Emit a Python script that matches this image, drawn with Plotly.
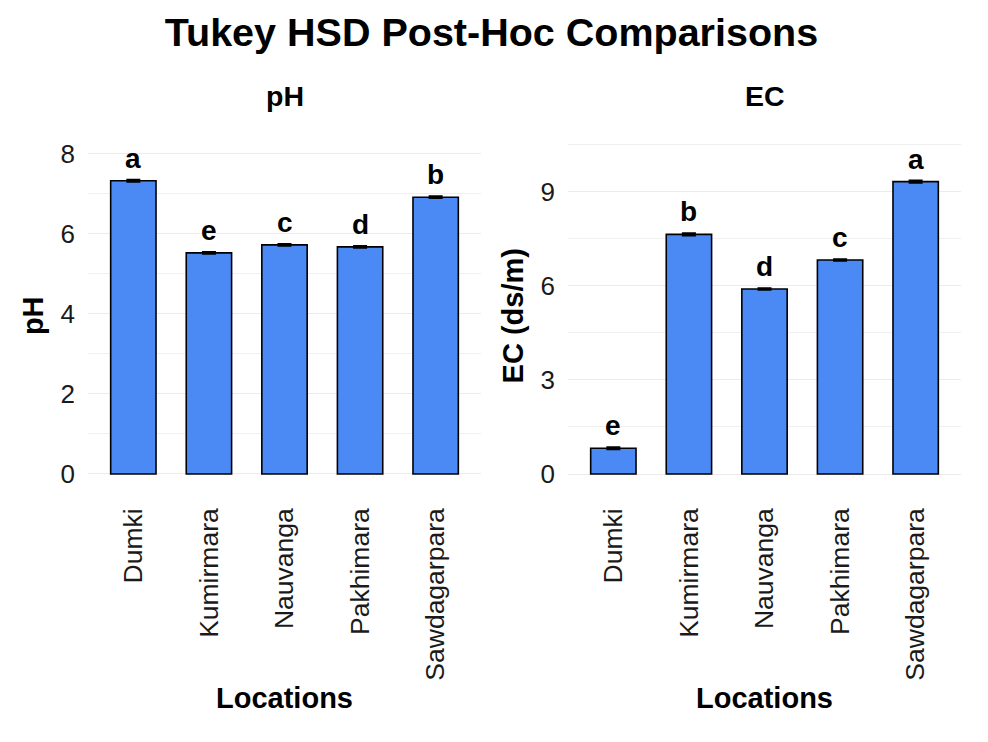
import plotly.graph_objects as go

locations = ["Dumki", "Kumirmara", "Nauvanga", "Pakhimara", "Sawdagarpara"]
ph_mean = [7.32, 5.52, 5.72, 5.67, 6.91]
ph_se = [0.02, 0.02, 0.02, 0.02, 0.02]
ph_letters = ["a", "e", "c", "d", "b"]
ec_mean = [0.82, 7.64, 5.90, 6.82, 9.32]
ec_se = [0.03, 0.03, 0.02, 0.02, 0.03]
ec_letters = ["e", "b", "d", "c", "a"]

W, H = 988, 742
OFF = 8  # page body margin
BAR = "#4B8AF4"
FONT = "Liberation Sans, Arial, sans-serif"

def px_x(p):
    return (p - OFF) / W

def px_y(p):
    return 1 - (p - OFF) / H

fig = go.Figure()

panels = [
    (ph_mean, ph_se, ph_letters, "x", "y"),
    (ec_mean, ec_se, ec_letters, "x2", "y2"),
]
for mean, se, letters, xa, ya in panels:
    fig.add_trace(go.Bar(
        x=locations, y=mean, xaxis=xa, yaxis=ya, width=0.6,
        marker=dict(color=BAR, line=dict(color="black", width=1.6)),
        error_y=dict(type="data", array=se, color="black", thickness=2.2, width=7),
        showlegend=False, hoverinfo="skip",
    ))
    for loc, m, s, lt in zip(locations, mean, se, letters):
        fig.add_annotation(
            x=loc, y=m + s, xref=xa, yref=ya, text=f"<b>{lt}</b>",
            showarrow=False, yanchor="bottom", yshift=4,
            font=dict(family=FONT, size=28, color="black"),
        )

grid = dict(showgrid=True, gridcolor="#EBEBEB", gridwidth=1.2, zeroline=False,
            showline=False, ticks="", automargin=False,
            tickfont=dict(family=FONT, size=26, color="#1a1a1a"),
            ticklabelstandoff=12)

xcommon = dict(type="category", range=[-0.6, 4.6], showgrid=False, zeroline=False,
               showline=False, ticks="", tickangle=-90, automargin=False,
               tickfont=dict(family=FONT, size=26.5, color="#1a1a1a"),
               ticklabelstandoff=12,
               title=dict(text="<b>Locations</b>", standoff=8,
                          font=dict(family=FONT, size=29, color="black")))

ydom = [px_y(490), px_y(141.5)]
fig.update_layout(
    width=W, height=H,
    margin=dict(l=0, r=0, t=0, b=0),
    paper_bgcolor="white", plot_bgcolor="white",
    font=dict(family=FONT, color="black"),
    title=dict(text="<b>Tukey HSD Post-Hoc Comparisons</b>", x=px_x(491.5), xanchor="center",
               y=px_y(32), yanchor="middle", font=dict(family=FONT, size=39.5, color="black")),
    xaxis=dict(domain=[px_x(88), px_x(481)], anchor="y", **xcommon),
    xaxis2=dict(domain=[px_x(568), px_x(961)], anchor="y2", **xcommon),
    yaxis=dict(domain=ydom, anchor="x", range=[-0.4, 8.3], tickvals=[0, 2, 4, 6, 8],
               minor=dict(tickvals=[1, 3, 5, 7], showgrid=True, gridcolor="#F0F0F0", gridwidth=0.8),
               title=dict(text="<b>pH</b>", standoff=8,
                          font=dict(family=FONT, size=29, color="black")),
               **grid),
    yaxis2=dict(domain=ydom, anchor="x2", range=[-0.51, 10.6], tickvals=[0, 3, 6, 9],
                minor=dict(tickvals=[1.5, 4.5, 7.5, 10.5], showgrid=True, gridcolor="#F0F0F0", gridwidth=0.8),
                title=dict(text="<b>EC (ds/m)</b>", standoff=8,
                           font=dict(family=FONT, size=29, color="black")),
                **grid),
)

for txt, cx in [("pH", (88 + 481) / 2), ("EC", (568 + 961) / 2)]:
    fig.add_annotation(x=px_x(cx), y=px_y(96), xref="paper", yref="paper",
                       text=f"<b>{txt}</b>", showarrow=False,
                       xanchor="center", yanchor="middle",
                       font=dict(family=FONT, size=28.5, color="black"))

fig.write_html("out.html")
